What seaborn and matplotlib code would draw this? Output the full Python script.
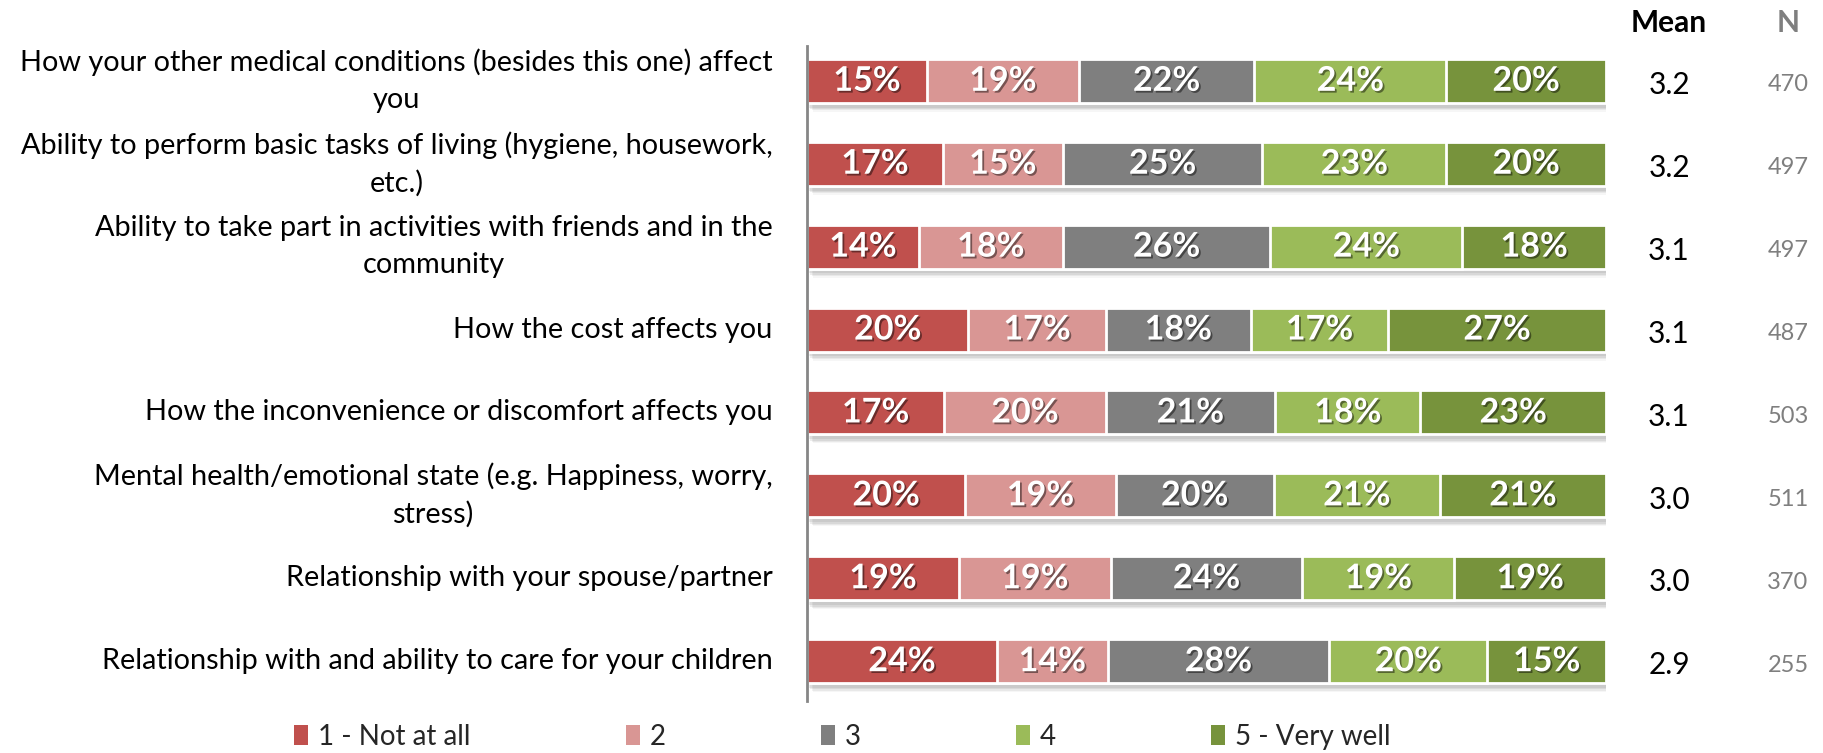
import numpy as np
import pandas as pd
import matplotlib
matplotlib.use("Agg")
import matplotlib.pyplot as plt
import matplotlib.patheffects as pe
from matplotlib.patches import Patch
import seaborn as sns

# ---- data ----
items = [
    "How your other medical conditions (besides this one) affect\nyou",
    "Ability to perform basic tasks of living (hygiene, housework,\netc.)",
    "Ability to take part in activities with friends and in the\ncommunity",
    "How the cost affects you",
    "How the inconvenience or discomfort affects you",
    "Mental health/emotional state (e.g. Happiness, worry,\nstress)",
    "Relationship with your spouse/partner",
    "Relationship with and ability to care for your children",
]
levels = ["1 - Not at all", "2", "3", "4", "5 - Very well"]
pct_1 = [15, 17, 14, 20, 17, 20, 19, 24]
pct_2 = [19, 15, 18, 17, 20, 19, 19, 14]
pct_3 = [22, 25, 26, 18, 21, 20, 24, 28]
pct_4 = [24, 23, 24, 17, 18, 21, 19, 20]
pct_5 = [20, 20, 18, 27, 23, 21, 19, 15]
means = [3.2, 3.2, 3.1, 3.1, 3.1, 3.0, 3.0, 2.9]
counts = [470, 497, 497, 487, 503, 511, 370, 255]
palette = ["#C0504D", "#D99694", "#7F7F7F", "#9BBB59", "#77933C"]

sns.set_theme(style="white")
FONT = "Lato"
plt.rcParams["font.family"] = [FONT, "DejaVu Sans"]

shares = np.array([pct_1, pct_2, pct_3, pct_4, pct_5], dtype=float)
shares = shares / shares.sum(axis=0) * 100          # each row spans 100 %
cum = np.cumsum(shares, axis=0)

df = pd.DataFrame({"item": items})
for k in range(5):
    df[f"cum{k}"] = cum[k]

fig = plt.figure(figsize=(18.24, 7.53), dpi=100)
ax = fig.add_axes([807 / 1824, 1 - 701 / 753, 799 / 1824, (701 - 46) / 753])

bar_h = 0.53
# soft drop shadow built from a few offset, faint copies
shadow_fx = [pe.SimplePatchShadow(offset=(o, -o - 2), alpha=a, shadow_rgbFace="#505050")
             for o, a in [(4.5, 0.05), (3.5, 0.08), (2.5, 0.10), (1.5, 0.10)]]
# draw cumulative layers from the longest to the shortest
for k in range(4, -1, -1):
    n_before = len(ax.patches)
    sns.barplot(data=df, x=f"cum{k}", y="item", orient="h", color=palette[k],
                width=bar_h, edgecolor="white", linewidth=2.0, saturation=1,
                ax=ax)
    if k == 4:
        for p in ax.patches[n_before:]:
            p.set_path_effects(shadow_fx + [pe.Normal()])

# percentage labels inside each segment
label_fx = [pe.withSimplePatchShadow(offset=(1.3, -1.3), alpha=0.45,
                                     shadow_rgbFace="black")]
raw = [pct_1, pct_2, pct_3, pct_4, pct_5]
for k in range(5):
    for i in range(len(items)):
        start = cum[k - 1][i] if k > 0 else 0.0
        xc = start + shares[k][i] / 2
        ax.text(xc, i, f"{raw[k][i]}%", ha="center", va="center",
                color="white", fontsize=24.5, fontweight="bold",
                path_effects=label_fx)

ax.set_xlim(0, 100)
ax.set_ylim(len(items) - 1 + 0.48, -0.42)
ax.set_xlabel("")
ax.set_ylabel("")
ax.set_xticks([])
for side in ["top", "right", "bottom"]:
    ax.spines[side].set_visible(False)
ax.spines["left"].set_color("#868686")
ax.spines["left"].set_linewidth(2)
ax.tick_params(axis="y", length=0, pad=25)
for t in ax.get_yticklabels():
    t.set_fontsize(20.8)
    t.set_color("black")
    t.set_ha("right")
    t.set_va("center")
    t.set_multialignment("center")
    t.set_linespacing(1.5)

# Mean and N columns
fig.text(1669 / 1824, 1 - 23 / 753, "Mean", ha="center", va="center",
         fontsize=21.5, fontweight="bold", color="black")
fig.text(1788 / 1824, 1 - 23 / 753, "N", ha="center", va="center",
         fontsize=21.5, fontweight="bold", color="#7F7F7F")
for i in range(len(items)):
    y_disp = ax.transData.transform((0, i + 0.05))[1]
    y_fig = fig.transFigure.inverted().transform((0, y_disp))[1]
    fig.text(1669 / 1824, y_fig, f"{means[i]:.1f}", ha="center", va="center",
             fontsize=21.5, color="black")
    fig.text(1788 / 1824, y_fig, f"{counts[i]}", ha="center", va="center",
             fontsize=17, color="#7F7F7F")

# legend
handles = [Patch(facecolor=c, edgecolor="none") for c in palette]
fig.legend(handles, levels, loc="center left", ncol=5, frameon=False,
           bbox_to_anchor=(294 / 1824, 1 - 737 / 753), fontsize=20,
           handlelength=0.5, handleheight=0.75, handletextpad=0.35,
           columnspacing=5.6, borderpad=0, borderaxespad=0)

fig.savefig("out.png", dpi=100)
